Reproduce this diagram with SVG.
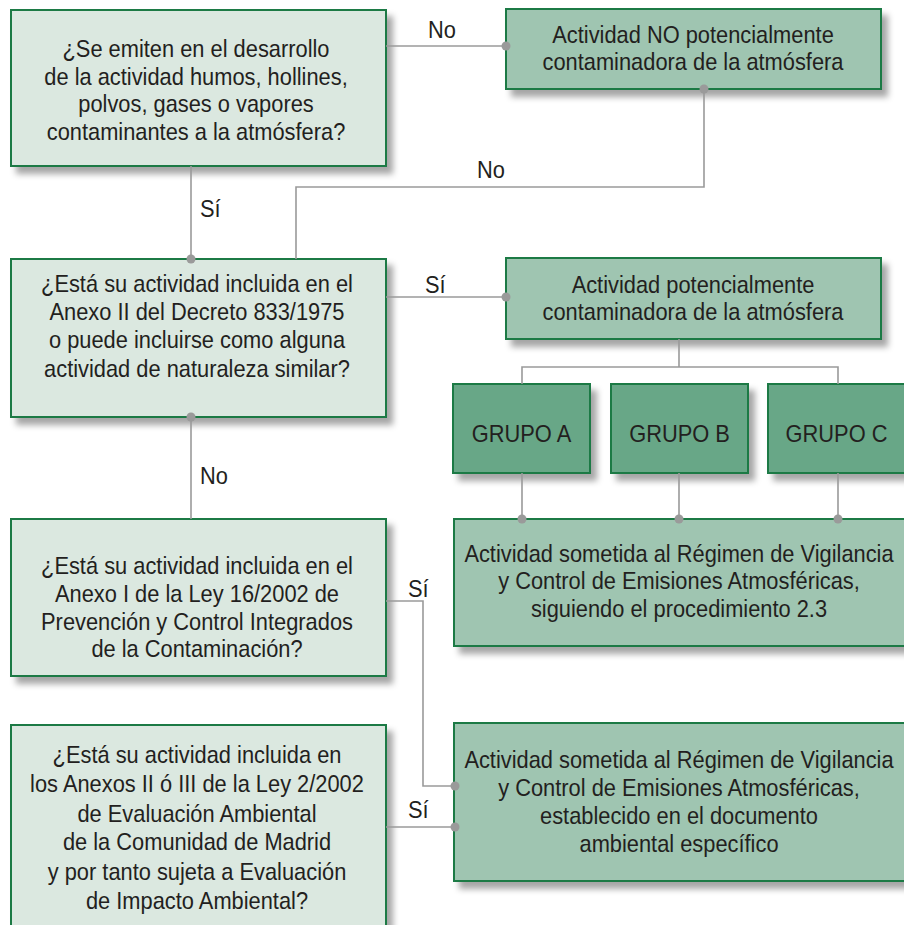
<svg xmlns="http://www.w3.org/2000/svg" width="904" height="925" viewBox="0 0 904 925">
<defs>
<filter id="sh" x="-5%" y="-10%" width="115%" height="130%">
<feDropShadow dx="6" dy="7" stdDeviation="3" flood-color="#000" flood-opacity="0.35"/>
</filter>
<style>
.q{fill:#dbe8e0;stroke:#1b7a45;stroke-width:2;filter:url(#sh)}
.r{fill:#9fc5b1;stroke:#1b7a45;stroke-width:2;filter:url(#sh)}
.g{fill:#67a787;stroke:#1b7a45;stroke-width:2;filter:url(#sh)}
.t{font-family:"Liberation Sans",Arial,sans-serif;font-size:24px;fill:#231f20;text-anchor:middle}
.l{font-family:"Liberation Sans",Arial,sans-serif;font-size:24px;fill:#231f20}
.c{fill:none;stroke:#9a9a9a;stroke-width:1.6}
.d{fill:#9a9a9a}
</style>
</defs>
<g id="q1">
<rect class="q" x="11" y="10" width="375" height="156"/>
<text class="t" transform="translate(196,0) scale(0.91,1)"><tspan x="0" y="57">¿Se emiten en el desarrollo</tspan><tspan x="0" y="85">de la actividad humos, hollines,</tspan><tspan x="0" y="112">polvos, gases o vapores</tspan><tspan x="0" y="140">contaminantes a la atmósfera?</tspan></text>
</g>
<g id="no-pot">
<rect class="r" x="506" y="9" width="375" height="80"/>
<text class="t" transform="translate(693,0) scale(0.91,1)"><tspan x="0" y="43">Actividad NO potencialmente</tspan><tspan x="0" y="70">contaminadora de la atmósfera</tspan></text>
</g>
<g id="q2">
<rect class="q" x="11" y="259" width="375" height="158"/>
<text class="t" transform="translate(197,0) scale(0.91,1)"><tspan x="0" y="292">¿Está su actividad incluida en el</tspan><tspan x="0" y="320">Anexo II del Decreto 833/1975</tspan><tspan x="0" y="348">o puede incluirse como alguna</tspan><tspan x="0" y="377">actividad de naturaleza similar?</tspan></text>
</g>
<g id="pot">
<rect class="r" x="506" y="258" width="375" height="81"/>
<text class="t" transform="translate(693,0) scale(0.91,1)"><tspan x="0" y="293">Actividad potencialmente</tspan><tspan x="0" y="320">contaminadora de la atmósfera</tspan></text>
</g>
<g id="grupo-a">
<rect class="g" x="453" y="384" width="137" height="89"/>
<text class="t" transform="translate(521.5,0) scale(0.91,1)" y="442">GRUPO A</text>
</g>
<g id="grupo-b">
<rect class="g" x="611" y="384" width="137" height="89"/>
<text class="t" transform="translate(679.5,0) scale(0.91,1)" y="442">GRUPO B</text>
</g>
<g id="grupo-c">
<rect class="g" x="768" y="384" width="140" height="89"/>
<text class="t" transform="translate(836.5,0) scale(0.91,1)" y="442">GRUPO C</text>
</g>
<g id="q3">
<rect class="q" x="11" y="519" width="375" height="157"/>
<text class="t" transform="translate(197,0) scale(0.91,1)"><tspan x="0" y="574">¿Está su actividad incluida en el</tspan><tspan x="0" y="602">Anexo I de la Ley 16/2002 de</tspan><tspan x="0" y="630">Prevención y Control Integrados</tspan><tspan x="0" y="657">de la Contaminación?</tspan></text>
</g>
<g id="regimen-23">
<rect class="r" x="454" y="519" width="460" height="127"/>
<text class="t" transform="translate(679,0) scale(0.91,1)"><tspan x="0" y="562">Actividad sometida al Régimen de Vigilancia</tspan><tspan x="0" y="589">y Control de Emisiones Atmosféricas,</tspan><tspan x="0" y="617">siguiendo el procedimiento 2.3</tspan></text>
</g>
<g id="q4">
<rect class="q" x="11" y="725" width="375" height="220"/>
<text class="t" transform="translate(197,0) scale(0.91,1)"><tspan x="0" y="763">¿Está su actividad incluida en</tspan><tspan x="0" y="792">los Anexos II ó III de la Ley 2/2002</tspan><tspan x="0" y="822">de Evaluación Ambiental</tspan><tspan x="0" y="850">de la Comunidad de Madrid</tspan><tspan x="0" y="880">y por tanto sujeta a Evaluación</tspan><tspan x="0" y="909">de Impacto Ambiental?</tspan></text>
</g>
<g id="regimen-doc">
<rect class="r" x="454" y="723" width="460" height="158"/>
<text class="t" transform="translate(679,0) scale(0.91,1)"><tspan x="0" y="768">Actividad sometida al Régimen de Vigilancia</tspan><tspan x="0" y="796">y Control de Emisiones Atmosféricas,</tspan><tspan x="0" y="824">establecido en el documento</tspan><tspan x="0" y="852">ambiental específico</tspan></text>
</g>
<g id="connectors">
<path class="c" d="M386 46H506"/>
<path class="c" d="M704 89V187H296V259"/>
<path class="c" d="M191 166V259"/>
<path class="c" d="M386 297H506"/>
<path class="c" d="M679 339V367M522 384V367H838V384"/>
<path class="c" d="M522 473V519M679 473V519M838 473V519"/>
<path class="c" d="M191 417V519"/>
<path class="c" d="M386 601H423V786H455"/>
<path class="c" d="M386 827H455"/>
<circle class="d" cx="506" cy="46" r="4.5"/>
<circle class="d" cx="704" cy="89" r="4.5"/>
<circle class="d" cx="191" cy="259" r="4.5"/>
<circle class="d" cx="506" cy="297" r="4.5"/>
<circle class="d" cx="191" cy="417" r="4.5"/>
<circle class="d" cx="522" cy="519" r="4.5"/>
<circle class="d" cx="679" cy="519" r="4.5"/>
<circle class="d" cx="838" cy="519" r="4.5"/>
<circle class="d" cx="455" cy="786" r="4.5"/>
<circle class="d" cx="455" cy="827" r="4.5"/>
<text class="l" transform="translate(428,0) scale(0.91,1)" y="38">No</text>
<text class="l" transform="translate(477,0) scale(0.91,1)" y="178">No</text>
<text class="l" transform="translate(200,0) scale(0.91,1)" y="217">Sí</text>
<text class="l" transform="translate(425,0) scale(0.91,1)" y="293">Sí</text>
<text class="l" transform="translate(200,0) scale(0.91,1)" y="484">No</text>
<text class="l" transform="translate(408,0) scale(0.91,1)" y="597">Sí</text>
<text class="l" transform="translate(408,0) scale(0.91,1)" y="818">Sí</text>
</g>
</svg>
